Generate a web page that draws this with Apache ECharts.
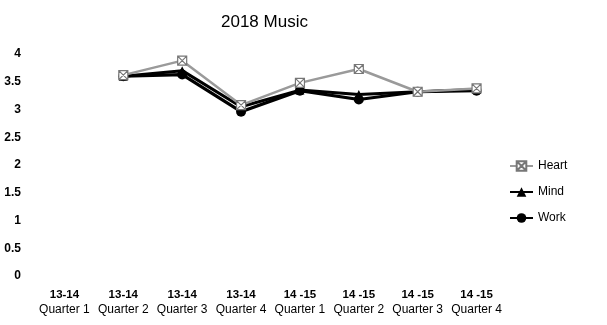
<!DOCTYPE html>
<html>
<head>
<meta charset="utf-8">
<script src="https://cdn.jsdelivr.net/npm/echarts@6/dist/echarts.min.js"></script>
<style>html,body{margin:0;padding:0;background:#fff}#c{width:607px;height:325px}</style>
</head>
<body>
<div id="c"></div>
<script>
var periods = ["13-14", "13-14", "13-14", "13-14", "14 -15", "14 -15", "14 -15", "14 -15"];
var quarters = ["Quarter 1", "Quarter 2", "Quarter 3", "Quarter 4", "Quarter 1", "Quarter 2", "Quarter 3", "Quarter 4"];
var heart = [null, 3.62, 3.88, 3.08, 3.48, 3.73, 3.32, 3.38];
var mind = [null, 3.6, 3.7, 3.05, 3.35, 3.27, 3.32, 3.36];
var work = [null, 3.6, 3.63, 2.96, 3.34, 3.18, 3.32, 3.34];
var yTicks = ["0", "0.5", "1", "1.5", "2", "2.5", "3", "3.5", "4"];

var categories = periods.map(function (p, i) { return "{p|" + p + "}\n{q|" + quarters[i] + "}"; });
var font = "Liberation Sans";
var chart = echarts.init(document.getElementById('c'), null, {renderer: 'canvas'});
chart.setOption({
  animation: false,
  title: {
    text: "2018 Music", left: 216, top: 9,
    textStyle: {fontFamily: font, fontSize: 17, fontWeight: 'normal', color: '#000'}
  },
  legend: {
    orient: 'vertical', left: 504, top: 155, itemGap: 14, itemWidth: 23, itemHeight: 12,
    textStyle: {fontFamily: font, fontSize: 12, color: '#000'},
    data: ['Heart', 'Mind', 'Work']
  },
  grid: {left: 35, right: 101, top: 54, bottom: 49, containLabel: false},
  xAxis: {
    type: 'category', data: categories, boundaryGap: true,
    axisLine: {show: false}, axisTick: {show: false},
    axisLabel: {interval: 0, fontFamily: font, color: '#000', margin: 11,
      rich: {
        p: {fontFamily: font, fontSize: 11.5, fontWeight: 'bold', color: '#000', lineHeight: 15},
        q: {fontFamily: font, fontSize: 12, color: '#000', lineHeight: 15}
      }}
  },
  yAxis: {
    type: 'value', min: 0, max: 4, interval: 0.5,
    axisLine: {show: false}, axisTick: {show: false}, splitLine: {show: false},
    axisLabel: {fontFamily: font, fontSize: 12, fontWeight: 'bold', color: '#000', margin: 14,
      formatter: function (v) { return yTicks[Math.round(v / 0.5)]; }}
  },
  series: [
    {name: 'Heart', type: 'line', data: heart, connectNulls: false,
     symbol: 'path://M0,0L10,0L10,10L0,10Z M0,0L10,10 M10,0L0,10', symbolSize: 9,
     lineStyle: {color: '#9a9a9a', width: 2.5}, itemStyle: {color: '#fff', borderColor: '#777', borderWidth: 1.2}, z: 3},
    {name: 'Mind', type: 'line', data: mind,
     symbol: 'triangle', symbolSize: 9,
     lineStyle: {color: '#000', width: 3}, itemStyle: {color: '#000'}, z: 2},
    {name: 'Work', type: 'line', data: work,
     symbol: 'circle', symbolSize: 10,
     lineStyle: {color: '#000', width: 3.2}, itemStyle: {color: '#000'}, z: 1}
  ]
});
</script>
</body>
</html>
